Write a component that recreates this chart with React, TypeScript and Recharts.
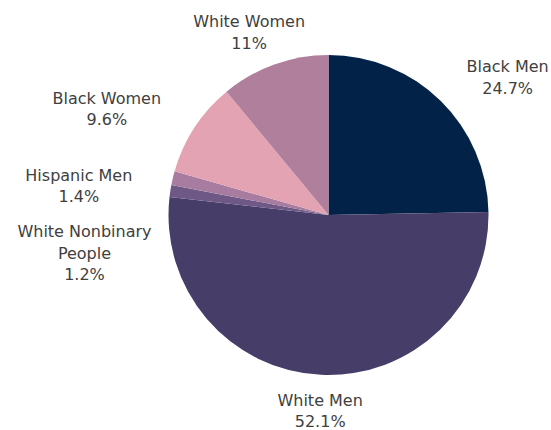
import { PieChart, Pie, Cell } from 'recharts';

const categories = [
  'Black Men',
  'White Men',
  'White Nonbinary People',
  'Hispanic Men',
  'Black Women',
  'White Women',
];
const shares = [24.7, 52.1, 1.2, 1.4, 9.6, 11];
const colors = ['#022247', '#463e69', '#6d5886', '#a87ca0', '#e3a3b3', '#b07f9c'];

const data = categories.map((name, i) => ({ name, value: shares[i] }));

// label placement relative to each slice's mid angle (best-fit style, like the original)
const labelShift = [
  { dAngle: -7, dist: 229 },
  { dAngle: 0.2, dist: 191 },
  { dAngle: 13.8, dist: 245 },
  { dAngle: 5.5, dist: 252 },
  { dAngle: 6.5, dist: 248 },
  { dAngle: 3.1, dist: 204 },
];

const RAD = Math.PI / 180;
const LINE_H = 21.5;

function splitName(name: string): string[] {
  if (name.length <= 15) return [name];
  const words = name.split(' ');
  const last = words.pop() as string;
  return [words.join(' '), last];
}

function renderLabel(props: any) {
  const { cx, cy, midAngle, name, value, index } = props;
  const lines = [...splitName(name), `${value}%`];
  const s = labelShift[index];
  const a = (midAngle + s.dAngle) * RAD;
  const x = cx + s.dist * Math.cos(a);
  const y = cy - s.dist * Math.sin(a);
  return (
    <text
      x={x}
      y={y}
      textAnchor="middle"
      fill="#404040"
      fontSize={16}
      fontFamily="'DejaVu Sans', sans-serif"
    >
      {lines.map((l, i) => (
        <tspan key={i} x={x} y={y + i * LINE_H}>
          {l}
        </tspan>
      ))}
    </text>
  );
}

export default function App() {
  return (
    <div style={{ position: 'absolute', left: 0, top: 0, width: 551, height: 430, background: '#fff' }}>
      <PieChart width={551} height={430} margin={{ top: 0, right: 0, bottom: 0, left: 0 }}>
        <Pie
          data={data}
          dataKey="value"
          nameKey="name"
          cx={328.5}
          cy={215}
          outerRadius={160}
          startAngle={90}
          endAngle={-270}
          stroke="none"
          label={renderLabel}
          labelLine={false}
          isAnimationActive={false}
        >
          {data.map((d, i) => (
            <Cell key={d.name} fill={colors[i]} />
          ))}
        </Pie>
      </PieChart>
    </div>
  );
}
